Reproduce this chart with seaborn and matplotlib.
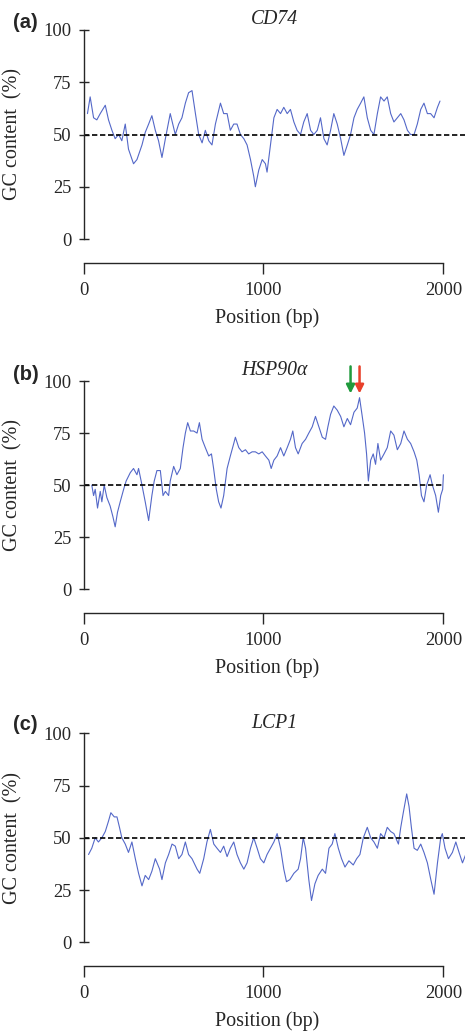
import matplotlib
matplotlib.use("Agg")
import matplotlib.pyplot as plt
import seaborn as sns
import pandas as pd

# ---------------- data ----------------
genes = ["CD74", "HSP90\u03b1", "LCP1"]
panel_letters = ["(a)", "(b)", "(c)"]

pos_a = [22, 37, 56, 74, 93, 121, 139, 158, 176, 195, 213, 232, 250, 278, 297, 325, 343, 362, 380, 399,
         417, 436, 455, 482, 510, 529, 547, 566, 584, 603, 622, 640, 659, 677, 696, 714, 733, 761, 779, 798,
         816, 835, 853, 872, 891, 909, 928, 946, 955, 974, 993, 1011, 1020, 1039, 1058, 1076, 1095, 1113, 1132, 1150,
         1169, 1187, 1206, 1224, 1243, 1262, 1280, 1299, 1317, 1336, 1354, 1373, 1391, 1410, 1429, 1447, 1466, 1484, 1503, 1521,
         1540, 1558, 1577, 1596, 1614, 1633, 1651, 1670, 1688, 1707, 1725, 1744, 1763, 1781, 1800, 1818, 1837, 1855, 1874, 1892,
         1911, 1929, 1948, 1967, 1981]
gc_a = [60, 68, 58, 57, 60, 64, 57, 52, 48, 50, 47, 55, 43, 36, 38, 45, 51, 55, 59, 52,
        47, 39, 48, 60, 50, 55, 58, 65, 70, 71, 60, 50, 46, 52, 47, 45, 55, 65, 60, 60,
        52, 55, 55, 50, 48, 45, 38, 30, 25, 33, 38, 36, 32, 45, 58, 62, 60, 63, 60, 62,
        56, 52, 50, 56, 60, 52, 50, 52, 58, 48, 45, 52, 60, 55, 48, 40, 45, 50, 58, 62,
        65, 68, 58, 52, 50, 60, 68, 66, 68, 60, 56, 58, 60, 57, 52, 50, 50, 55, 62, 65,
        60, 60, 58, 63, 66]

pos_b = [46, 56, 65, 78, 93, 102, 115, 130, 148, 163, 176, 189, 204, 223, 237, 260, 278, 297, 306, 325,
         343, 362, 380, 393, 408, 427, 442, 455, 473, 482, 501, 519, 538, 553, 566, 579, 594, 612, 631, 644,
         659, 677, 696, 711, 723, 738, 751, 764, 779, 798, 816, 835, 844, 863, 881, 900, 918, 937, 955, 974,
         993, 1011, 1030, 1043, 1058, 1076, 1095, 1113, 1132, 1150, 1163, 1178, 1193, 1215, 1234, 1252, 1271, 1289, 1308, 1327,
         1345, 1358, 1373, 1391, 1410, 1429, 1447, 1466, 1484, 1503, 1521, 1534, 1549, 1562, 1573, 1583, 1596, 1610, 1623, 1636,
         1651, 1670, 1688, 1707, 1725, 1744, 1763, 1781, 1800, 1818, 1837, 1852, 1865, 1878, 1892, 1907, 1926, 1939, 1957, 1972,
         1985, 1996, 2000]
gc_b = [50, 45, 48, 39, 47, 42, 50, 44, 40, 35, 30, 37, 42, 48, 52, 56, 58, 55, 58, 50,
        42, 33, 45, 52, 57, 57, 45, 47, 45, 52, 59, 55, 58, 68, 75, 80, 76, 76, 75, 80,
        72, 68, 64, 65, 58, 48, 42, 39, 45, 58, 64, 70, 73, 68, 66, 67, 65, 66, 66, 65,
        66, 64, 62, 58, 62, 64, 68, 64, 68, 72, 76, 68, 65, 70, 72, 75, 78, 83, 78, 73,
        72, 78, 84, 88, 86, 83, 78, 82, 79, 85, 87, 92, 83, 75, 65, 52, 62, 65, 60, 70,
        62, 65, 68, 76, 74, 67, 70, 76, 72, 70, 66, 62, 55, 45, 42, 50, 55, 50, 45, 37,
        45, 48, 55]

pos_c = [28, 46, 65, 83, 102, 121, 139, 152, 171, 186, 200, 213, 232, 250, 269, 288, 306, 325, 343, 362,
         380, 399, 423, 436, 455, 473, 492, 510, 529, 547, 566, 584, 603, 631, 646, 668, 686, 705, 724, 742,
         761, 779, 798, 816, 835, 853, 872, 891, 909, 928, 946, 965, 983, 1002, 1020, 1039, 1058, 1076, 1095, 1113,
         1128, 1147, 1169, 1193, 1206, 1221, 1234, 1252, 1267, 1286, 1304, 1327, 1345, 1364, 1382, 1397, 1416, 1434, 1453, 1475,
         1499, 1518, 1536, 1555, 1577, 1596, 1614, 1633, 1651, 1670, 1688, 1707, 1725, 1750, 1763, 1777, 1796, 1809, 1822, 1837,
         1855, 1874, 1892, 1911, 1930, 1948, 1967, 1985, 1994, 2009, 2028, 2050, 2069, 2087, 2106, 2124]
gc_c = [42, 45, 50, 48, 50, 53, 58, 62, 60, 60, 55, 50, 47, 43, 48, 40, 33, 27, 32, 30,
        34, 40, 35, 30, 38, 42, 47, 46, 40, 42, 48, 42, 40, 35, 33, 40, 48, 54, 47, 45,
        43, 46, 41, 45, 48, 42, 38, 35, 38, 45, 50, 45, 40, 38, 42, 45, 48, 52, 45, 35,
        29, 30, 33, 35, 40, 50, 45, 30, 20, 28, 32, 35, 33, 45, 47, 52, 45, 40, 36, 39,
        37, 40, 42, 50, 55, 50, 48, 45, 52, 50, 55, 53, 52, 47, 55, 62, 71, 65, 55, 45,
        44, 47, 43, 38, 30, 23, 38, 50, 52, 45, 40, 43, 48, 43, 38, 42]

positions = [pos_a, pos_b, pos_c]
gc_values = [gc_a, gc_b, gc_c]

y_ticks = [0, 25, 50, 75, 100]
x_ticks = [0, 1000, 2000]
reference_gc = 50

# arrows in panel (b): (position, colour)
arrow_pos = [1484, 1534]
arrow_colors = ["#1f9a3c", "#e8402a"]

# ---------------- style ----------------
sns.set_style("ticks")
plt.rcParams["font.family"] = ["Liberation Serif", "DejaVu Serif"]
plt.rcParams["axes.linewidth"] = 1.0

W, H = 465, 1035
fig = plt.figure(figsize=(W / 100, H / 100), dpi=100)

line_color = "#5468c8"
# axes rectangles in pixels (top, bottom)
rects_px = [(30.0, 239.0), (381.0, 589.3), (733.3, 942.3)]
label_y_px = [22, 375, 724]
left_px = 83.5
dash_style = (0, (3.2, 1.6))

for i in range(3):
    top, bot = rects_px[i]
    ax = fig.add_axes([left_px / W, 1 - bot / H, (W - left_px) / W, (bot - top) / H])
    df = pd.DataFrame({"Position": positions[i], "GC": gc_values[i]})
    sns.lineplot(data=df, x="Position", y="GC", ax=ax, color=line_color, linewidth=0.8,
                 estimator=None, sort=False)
    if i == 1:
        ax.hlines(reference_gc, x_ticks[0], x_ticks[-1], colors="black",
                  linestyles=dash_style, linewidth=1.2)
    else:
        ax.axhline(reference_gc, color="black", linestyle=dash_style, linewidth=1.2)

    ax.set_xlim(0, 2120)
    ax.set_ylim(0, 100)
    ax.set_xticks(x_ticks)
    ax.set_yticks(y_ticks)
    ax.set_xticklabels([str(t) for t in x_ticks])
    ax.set_yticklabels([str(t) for t in y_ticks])

    ax.spines["top"].set_visible(False)
    ax.spines["right"].set_visible(False)
    ax.spines["bottom"].set_position(("outward", 17))
    ax.spines["bottom"].set_bounds(x_ticks[0], x_ticks[-1])
    ax.spines["left"].set_bounds(y_ticks[0], y_ticks[-1])

    ax.tick_params(axis="y", direction="inout", length=7, width=1.0, labelsize=13.3, pad=5)
    ax.tick_params(axis="x", direction="out", length=8, width=1.0, labelsize=13.3, pad=6)

    ax.set_ylabel("GC content  (%)", fontsize=14.5)
    ax.yaxis.set_label_coords(-0.16, 0.5)
    ax.set_xlabel("Position (bp)", fontsize=14.5)
    ax.xaxis.set_label_coords(0.481, -0.33)

    ax.set_title(genes[i], fontstyle="italic", fontsize=14.2, pad=4)

    fig.text(13 / W, 1 - label_y_px[i] / H, panel_letters[i], fontsize=14.5, fontweight="bold",
             family=["Liberation Sans", "DejaVu Sans"], ha="left", va="center")

    if i == 1:
        for p, c in zip(arrow_pos, arrow_colors):
            ax.annotate("", xy=(p, 94), xytext=(p, 107), annotation_clip=False,
                        arrowprops=dict(arrowstyle="-|>,head_length=0.5,head_width=0.25",
                                        color=c, lw=1.8, shrinkA=0, shrinkB=0))

fig.savefig("out.png", dpi=100)
